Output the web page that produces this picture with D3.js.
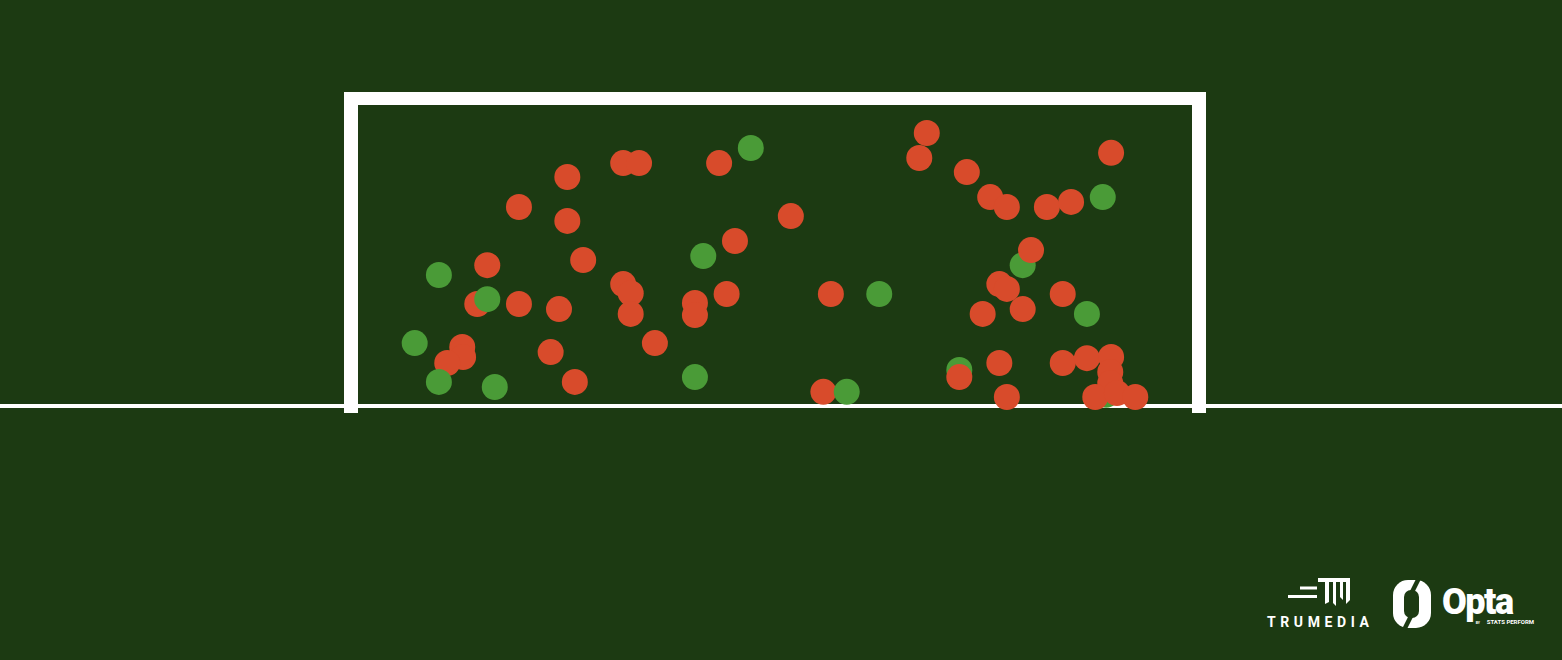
<!DOCTYPE html>
<html><head><meta charset="utf-8">
<script src="https://cdn.jsdelivr.net/npm/d3@7"></script>
<style>html,body{margin:0;padding:0;background:#1c3a12;}svg{display:block;}</style>
</head><body>
<svg id="chart" width="1562" height="660"></svg>
<script>
// Shot end locations on the goal mouth: x = % across goal width (left→right), z = % of goal height
const shotX = [9.7,15.5,14.3,15.5,19.3,24.1,6.8,12.5,12.6,10.7,9.7,16.4,23.1,26.0,19.3,25.1,25.1,27.0,31.8,33.7,43.3,47.1,41.4,45.2,31.8,32.7,32.7,40.4,40.4,44.2,35.6,40.4,51.9,68.2,67.3,73.0,75.8,77.8,82.6,85.5,89.3,90.3,56.7,62.5,79.7,80.7,76.9,77.8,79.7,74.9,84.5,87.4,55.8,58.6,72.1,72.1,76.9,77.8,84.5,87.4,90.3,89.7,90.2,90.2,88.4,91.0,93.2];
const shotZ = [43.5,46.8,33.9,35.5,33.9,32.2,20.9,19.6,16.3,14.3,8.0,6.3,17.9,8.0,66.1,76.1,61.5,48.5,80.7,80.7,80.7,85.7,49.8,54.8,40.5,37.5,30.6,34.2,30.2,37.2,20.9,9.6,63.1,90.7,82.4,77.7,69.4,66.1,66.1,67.8,69.4,84.1,37.2,37.2,46.8,51.8,40.5,38.9,32.2,30.6,37.2,30.6,4.7,4.7,12.0,9.6,14.3,3.0,14.3,15.9,16.3,3.7,11.3,7.6,3.0,4.3,3.0];
const shotGoal = ["Y","N","N","Y","N","N","Y","N","N","N","Y","Y","N","N","N","N","N","N","N","N","N","Y","Y","N","N","N","N","N","N","N","N","Y","N","N","N","N","N","N","N","N","Y","N","N","Y","Y","N","N","N","N","N","N","Y","N","Y","Y","N","N","N","N","N","N","Y","N","N","N","N","N"];

const svg = d3.select("#chart");
const W = 1562, H = 660, BG = "#1c3a12";
svg.append("rect").attr("width", W).attr("height", H).attr("fill", BG);

const x = d3.scaleLinear().domain([0, 100]).range([358, 1192]);
const z = d3.scaleLinear().domain([0, 100]).range([406, 105]);
const postW = 14;

// ground line
svg.append("line").attr("x1", 0).attr("x2", W).attr("y1", z(0)).attr("y2", z(0))
  .attr("stroke", "#ffffff").attr("stroke-width", 4);

// goal frame
const frame = svg.append("g").attr("fill", "#ffffff");
frame.append("rect").attr("x", x(0) - postW).attr("y", z(100) - 13)
  .attr("width", x(100) - x(0) + 2 * postW).attr("height", 13);
frame.append("rect").attr("x", x(0) - postW).attr("y", z(100) - 13)
  .attr("width", postW).attr("height", z(0) + 7 - (z(100) - 13));
frame.append("rect").attr("x", x(100)).attr("y", z(100) - 13)
  .attr("width", postW).attr("height", z(0) + 7 - (z(100) - 13));

// shots
const shots = shotX.map((v, i) => ({x: v, z: shotZ[i], goal: shotGoal[i]}));
svg.append("g").selectAll("circle").data(shots).join("circle")
  .attr("cx", d => x(d.x)).attr("cy", d => z(d.z)).attr("r", 13)
  .attr("fill", d => d.goal === "Y" ? "#4a9b37" : "#d84b2b");

// logos
const lg = svg.append("g").attr("fill", "#ffffff");
// TruMedia mark
lg.append("rect").attr("x", 1300).attr("y", 586.5).attr("width", 17).attr("height", 3);
lg.append("rect").attr("x", 1288).attr("y", 595).attr("width", 29).attr("height", 3);
lg.append("rect").attr("x", 1318).attr("y", 578).attr("width", 32).attr("height", 4);
lg.append("path").attr("d", "M1325,582 H1329 V602 L1325,604 Z");
lg.append("path").attr("d", "M1333,582 H1336 V606 L1333,603 Z");
lg.append("path").attr("d", "M1340,582 H1343 V600 L1340,597 Z");
lg.append("path").attr("d", "M1346,582 H1350 V600 L1346,604 Z");
lg.append("text").attr("x", 1267).attr("y", 627)
  .attr("font-family", "Roboto, 'DejaVu Sans', sans-serif").attr("font-weight", 700)
  .attr("font-size", 14).attr("letter-spacing", 4.6).text("TRUMEDIA");
// Opta mark
lg.append("rect").attr("x", 1393).attr("y", 580).attr("width", 38).attr("height", 48).attr("rx", 15);
lg.append("rect").attr("x", 1404).attr("y", 590).attr("width", 15).attr("height", 28).attr("rx", 7).attr("fill", BG);
lg.append("line").attr("x1", 1419).attr("y1", 578).attr("x2", 1412).attr("y2", 592)
  .attr("stroke", BG).attr("stroke-width", 4.5);
lg.append("line").attr("x1", 1411).attr("y1", 616).attr("x2", 1404).attr("y2", 630)
  .attr("stroke", BG).attr("stroke-width", 4.5);
lg.append("text").attr("x", 1442).attr("y", 614)
  .attr("font-family", "Roboto, 'DejaVu Sans', sans-serif").attr("font-weight", 900)
  .attr("font-size", 36).attr("letter-spacing", -1.5).text("Opta");
lg.append("text").attr("x", 1534).attr("y", 624).attr("text-anchor", "end")
  .attr("font-family", "Roboto, 'DejaVu Sans', sans-serif").attr("font-weight", 700)
  .attr("font-size", 6).text("STATS PERFORM");
lg.append("text").attr("x", 1480).attr("y", 624).attr("text-anchor", "end")
  .attr("font-family", "Roboto, 'DejaVu Sans', sans-serif").attr("font-weight", 700)
  .attr("font-size", 3.5).text("BY");
</script>
</body></html>
